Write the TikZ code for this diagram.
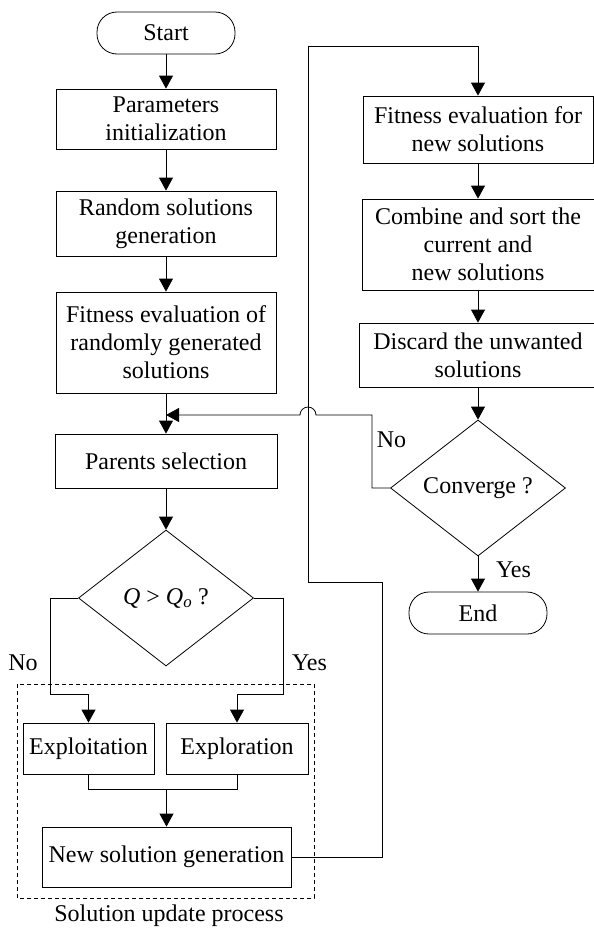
\documentclass[tikz,border=0pt]{standalone}
\usepackage{fontspec}
\setmainfont{Liberation Serif}
\usetikzlibrary{shapes.geometric,arrows.meta}
\begin{document}
\begin{tikzpicture}[x=1pt, y=-1pt, line width=0.8pt,
  font=\fontsize{24}{28}\selectfont,
  box/.style={draw, rectangle, inner sep=0pt, align=center},
  term/.style={draw, rectangle, rounded corners=20pt, inner sep=0pt, minimum width=138pt, minimum height=42pt},
  decision/.style={draw, diamond, inner sep=0pt, minimum width=175pt, minimum height=136pt},
  arr/.style={-{Triangle[length=13pt,width=14pt]}},
  lbl/.style={inner sep=0pt}]

\useasboundingbox (0,0) rectangle (594,929);

\node[term] (start) at (166,33) {Start};
\node[box, minimum width=220pt, minimum height=60pt] (param) at (166,119) {Parameters\\initialization};
\node[box, minimum width=220pt, minimum height=65pt] (random) at (166,223.5) {Random solutions\\generation};
\node[box, minimum width=220pt, minimum height=101pt] (fiteval) at (166,342.5) {Fitness evaluation of\\randomly generated\\solutions};
\node[box, minimum width=222pt, minimum height=54pt] (parents) at (166,461) {Parents selection};
\node[decision] (qcheck) at (166,598) {\textit{Q} > \textit{Q}\textsubscript{\textit{o}} ?};
\node[box, minimum width=131pt, minimum height=51pt] (exploit) at (88.5,748.5) {Exploitation};
\node[box, minimum width=142pt, minimum height=51pt] (explore) at (237,748.5) {Exploration};
\node[box, minimum width=249pt, minimum height=60pt] (newsol) at (166.5,857) {New solution generation};

\node[box, minimum width=230pt, minimum height=67pt] (fitnew) at (478,129.5) {Fitness evaluation for\\new solutions};
\node[box, minimum width=232pt, minimum height=91pt] (combine) at (478,244.5) {Combine and sort the\\current and\\new solutions};
\node[box, minimum width=238pt, minimum height=64pt] (discard) at (478,355) {Discard the unwanted\\solutions};
\node[decision] (conv) at (478,488) {Converge ?};
\node[term] (finish) at (478,613) {End};

\draw[dash pattern=on 4pt off 3pt] (17,684) rectangle (314,898);

\coordinate (merge) at (166,415);
\coordinate (nobend) at (50,694);
\coordinate (yesbend) at (283,694);
\coordinate (join) at (166.5,789);
\coordinate (back) at (382,582);
\coordinate (rise) at (308,582);
\coordinate (over) at (308,46);
\coordinate (loop) at (372,415);
\coordinate (hop) at (316,415);

\draw[arr] (start) -- (param);
\draw[arr] (param) -- (random);
\draw[arr] (random) -- (fiteval);
\draw[arr] (fiteval) -- (parents);
\draw[arr] (parents) -- (qcheck);
\draw[arr] (qcheck.west) -| (nobend) -| (exploit.north);
\draw[arr] (qcheck.east) -| (yesbend) -| (explore.north);
\draw (exploit.south) |- (join) -| (explore.south);
\draw[arr] (join) -- (newsol);
\draw[arr] (newsol.east) -| (back) -- (rise) -- (over) -| (fitnew.north);

\draw[arr] (fitnew) -- (combine);
\draw[arr] (combine) -- (discard);
\draw[arr] (discard) -- (conv);
\draw[arr] (conv.west) -| (loop) -- (hop) arc (0:180:8pt) -- (merge);
\draw[arr] (conv) -- (finish);

\node[lbl] (nolbl) at (23,663) {No};
\node[lbl] (yeslbl) at (309.5,663) {Yes};
\node[lbl] (noconv) at (391.5,440) {No};
\node[lbl] (yesconv) at (513.5,570) {Yes};
\node[lbl] (caption) at (169,916) {Solution update process};
\end{tikzpicture}
\end{document}
